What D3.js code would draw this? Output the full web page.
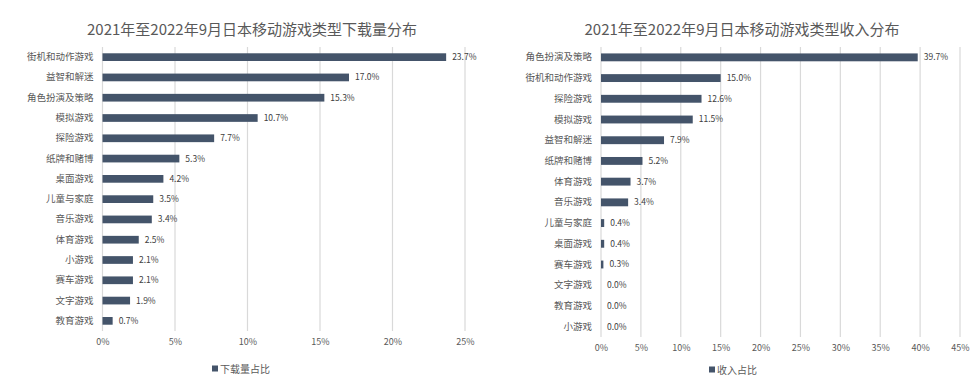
<!DOCTYPE html>
<html>
<head>
<meta charset="utf-8">
<script src="https://cdn.jsdelivr.net/npm/d3@7"></script>
<style>
  body { margin: 0; background: #fff; }
  text { font-family: "Noto Sans CJK SC", "Noto Sans", sans-serif; }
</style>
</head>
<body>
<div id="chart"></div>
<script>
const width = 979;
const height = 386;

// left chart: downloads
const dlTitle = "2021年至2022年9月日本移动游戏类型下载量分布";
const dlCats = ["街机和动作游戏", "益智和解迷", "角色扮演及策略", "模拟游戏", "探险游戏", "纸牌和赌博", "桌面游戏", "儿童与家庭", "音乐游戏", "体育游戏", "小游戏", "赛车游戏", "文字游戏", "教育游戏"];
const dlValues = [23.7, 17.0, 15.3, 10.7, 7.7, 5.3, 4.2, 3.5, 3.4, 2.5, 2.1, 2.1, 1.9, 0.7];
const dlTicks = [0, 5, 10, 15, 20, 25];
const dlLegend = "下载量占比";

// right chart: revenue
const revTitle = "2021年至2022年9月日本移动游戏类型收入分布";
const revCats = ["角色扮演及策略", "街机和动作游戏", "探险游戏", "模拟游戏", "益智和解迷", "纸牌和赌博", "体育游戏", "音乐游戏", "儿童与家庭", "桌面游戏", "赛车游戏", "文字游戏", "教育游戏", "小游戏"];
const revValues = [39.7, 15.0, 12.6, 11.5, 7.9, 5.2, 3.7, 3.4, 0.4, 0.4, 0.3, 0.0, 0.0, 0.0];
const revTicks = [0, 5, 10, 15, 20, 25, 30, 35, 40, 45];
const revLegend = "收入占比";

const barColor = "#44546a";
const gridColor = "#d9d9d9";
const textColor = "#595959";

var svg = d3.select("#chart").append("svg")
  .attr("width", width)
  .attr("height", height);

function drawChart(opt) {
  var g = svg.append("g");

  var x = d3.scaleLinear()
    .domain([0, opt.ticks[opt.ticks.length - 1]])
    .range([opt.x0, opt.x1]);

  var y = d3.scaleBand()
    .domain(opt.cats)
    .range([opt.top, opt.bottom])
    .paddingInner(0.62)
    .paddingOuter(0.31);

  // title
  g.append("text")
    .attr("x", opt.titleX)
    .attr("y", 35)
    .attr("text-anchor", "middle")
    .attr("font-size", 15)
    .attr("fill", textColor)
    .text(opt.title);

  // gridlines
  g.selectAll(".grid").data(opt.ticks).enter().append("line")
    .attr("x1", d => x(d)).attr("x2", d => x(d))
    .attr("y1", opt.top).attr("y2", opt.bottom)
    .attr("stroke", gridColor)
    .attr("stroke-width", 1.2);

  // x axis tick labels
  var xAxis = d3.axisBottom(x)
    .tickValues(opt.ticks)
    .tickFormat(d => d + "%")
    .tickSize(0)
    .tickPadding(opt.tickPad);
  var ax = g.append("g")
    .attr("transform", "translate(0," + opt.bottom + ")")
    .call(xAxis);
  ax.select(".domain").remove();
  ax.selectAll("text")
    .attr("fill", textColor)
    .attr("font-size", 9)
    .style("font-family", "'Noto Sans CJK SC', sans-serif");

  // category labels
  var yAxis = d3.axisLeft(y).tickSize(0).tickPadding(9);
  var ay = g.append("g")
    .attr("transform", "translate(" + opt.x0 + ",0)")
    .call(yAxis);
  ay.select(".domain").remove();
  ay.selectAll("text")
    .attr("fill", textColor)
    .attr("font-size", 9.5)
    .style("font-family", "'Noto Sans CJK SC', sans-serif");

  // bars
  g.selectAll(".bar").data(opt.values).enter().append("rect")
    .attr("x", x(0))
    .attr("y", (d, i) => y(opt.cats[i]))
    .attr("width", d => x(d) - x(0))
    .attr("height", y.bandwidth())
    .attr("fill", barColor);

  // value labels
  g.selectAll(".val").data(opt.values).enter().append("text")
    .attr("x", d => x(d) + 6)
    .attr("y", (d, i) => y(opt.cats[i]) + y.bandwidth() / 2)
    .attr("dy", "0.35em")
    .attr("font-size", 8.5)
    .attr("fill", "#404040")
    .text(d => d.toFixed(1) + "%");

  // legend
  var lg = g.append("g").attr("transform", "translate(" + opt.legendX + "," + opt.legendY + ")");
  lg.append("rect")
    .attr("x", 0).attr("y", -3.5)
    .attr("width", 6).attr("height", 6)
    .attr("fill", barColor);
  lg.append("text")
    .attr("x", 8).attr("y", 0)
    .attr("dy", "0.35em")
    .attr("font-size", 10)
    .attr("fill", textColor)
    .text(opt.legend);
}

drawChart({
  title: dlTitle, cats: dlCats, values: dlValues, ticks: dlTicks, legend: dlLegend,
  x0: 102.5, x1: 465, top: 47, bottom: 331, titleX: 252, tickPad: 8,
  legendX: 212, legendY: 369
});

drawChart({
  title: revTitle, cats: revCats, values: revValues, ticks: revTicks, legend: revLegend,
  x0: 601, x1: 960, top: 47, bottom: 337, titleX: 742, tickPad: 8,
  legendX: 709, legendY: 370
});
</script>
</body>
</html>
